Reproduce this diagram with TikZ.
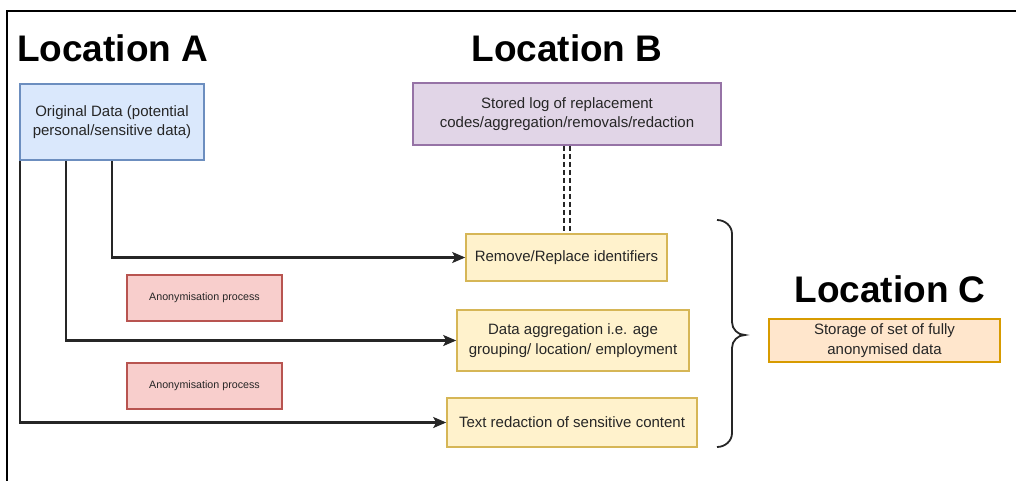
\documentclass[tikz,border=0pt]{standalone}
\usepackage{fontspec}
\setmainfont{Liberation Sans}
\usetikzlibrary{arrows.meta}
\definecolor{blueF}{HTML}{DAE8FC}\definecolor{blueD}{HTML}{6C8EBF}
\definecolor{purF}{HTML}{E1D5E7}\definecolor{purD}{HTML}{9673A6}
\definecolor{yelF}{HTML}{FFF2CC}\definecolor{yelD}{HTML}{D6B656}
\definecolor{redF}{HTML}{F8CECC}\definecolor{redD}{HTML}{B85450}
\definecolor{orF}{HTML}{FFE6CC}\definecolor{orD}{HTML}{D79B00}
\begin{document}
\begin{tikzpicture}[x=1pt,y=-1pt,
  box/.style={rectangle,draw,line width=1.6pt,inner sep=0pt,align=center,
    text=black!85,font=\fontsize{15}{19.5}\selectfont},
  bluebox/.style={box,fill=blueF,draw=blueD},
  purbox/.style={box,fill=purF,draw=purD},
  yelbox/.style={box,fill=yelF,draw=yelD},
  redbox/.style={box,fill=redF,draw=redD,font=\fontsize{10.7}{13}\selectfont},
  orbox/.style={box,fill=orF,draw=orD},
  title/.style={font=\fontsize{37}{40}\selectfont\bfseries,inner sep=0pt},
  conn/.style={line width=2.2pt,draw=black!85,-{Stealth[length=13pt,width=11pt,inset=3pt]}},
  dashc/.style={line width=2.4pt,draw=black!85,dash pattern=on 5pt off 3pt}]
\useasboundingbox (0,0) rectangle (1016,481);
% frame
\draw[line width=2.2pt] (7,481) -- (7,11) -- (1016,11);
% titles
\node[title,anchor=base west] (locA) at (17,62) {Location A};
\node[title,anchor=base] (locB) at (567,62) {Location B};
\node[title,anchor=base] (locC) at (890,302) {Location C};
% boxes
\node[bluebox,minimum width=184pt,minimum height=76pt] (orig) at (112,122)
  {Original Data (potential\\personal/sensitive data)};
\node[purbox,minimum width=308pt,minimum height=62pt] (log) at (567,114)
  {Stored log of replacement\\codes/aggregation/removals/redaction};
\node[yelbox,minimum width=201pt,minimum height=47pt] (rem) at (566.5,257.5)
  {Remove/Replace identifiers};
\node[yelbox,minimum width=232pt,minimum height=61pt] (agg) at (573,340.5)
  {Data aggregation i.e. age\\grouping/ location/ employment};
\node[yelbox,minimum width=250pt,minimum height=49pt] (red) at (572,422.5)
  {Text redaction of sensitive content};
\node[redbox,minimum width=155pt,minimum height=46pt] (an1) at (204.5,298)
  {Anonymisation process};
\node[redbox,minimum width=155pt,minimum height=46pt] (an2) at (204.5,386)
  {Anonymisation process};
\node[orbox,minimum width=231pt,minimum height=43pt] (store) at (884.5,340.5)
  {Storage of set of fully\\anonymised data};
% connectors
\draw[conn] (orig.south) |- (rem.west);
\draw[conn] ([xshift=-46pt]orig.south) |- (agg.west);
\draw[conn] ([xshift=-92pt]orig.south) |- (red.west);
\draw[dashc] ([xshift=-3pt]log.south) -- ([xshift=-3pt]log.south |- rem.north);
\draw[dashc] ([xshift=3pt]log.south) -- ([xshift=3pt]log.south |- rem.north);
% brace
\draw[line width=1.8pt,black!85] (717,220) to[out=0,in=90] (732,234) -- (732,322)
  to[out=-90,in=180] (745,335) to[out=180,in=90] (732,348) -- (732,433)
  to[out=-90,in=0] (717,447);
\end{tikzpicture}
\end{document}
